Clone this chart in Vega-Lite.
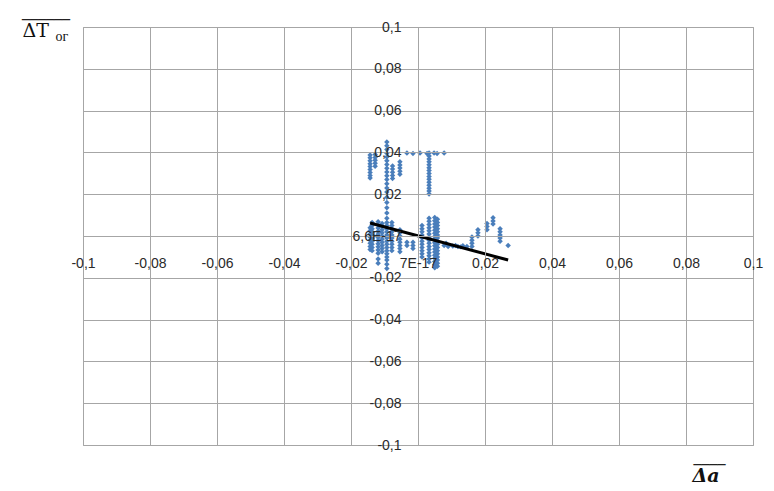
{
  "$schema": "https://vega.github.io/schema/vega-lite/v6.json",
  "width": 670,
  "height": 418,
  "autosize": {"type": "none"},
  "padding": {"left": 83, "top": 27, "right": 21, "bottom": 46},
  "background": "white",
  "config": {"view": {"stroke": "#a6a6a6", "strokeWidth": 1}},
  "title": {"text": "‾‾‾‾‾‾", "anchor": "start", "frame": "group", "dx": -61, "dy": 14, "font": "DejaVu Sans", "fontSize": 16, "fontWeight": "normal", "color": "#222", "offset": 0},
  "datasets": {
    "pts": [
      {"x": -0.0143, "y": 0.0388}, {"x": -0.0143, "y": 0.0374}, {"x": -0.0143, "y": 0.036}, {"x": -0.0143, "y": 0.0346}, {"x": -0.0143, "y": 0.0332}, {"x": -0.0143, "y": 0.0318}, {"x": -0.0143, "y": 0.0304}, {"x": -0.0143, "y": 0.029}, {"x": -0.0143, "y": 0.0278},
      {"x": -0.0128, "y": 0.039}, {"x": -0.0128, "y": 0.0376}, {"x": -0.0128, "y": 0.0362}, {"x": -0.0128, "y": 0.0348}, {"x": -0.0128, "y": 0.0334},
      {"x": -0.0093, "y": 0.045}, {"x": -0.0093, "y": 0.0432}, {"x": -0.0093, "y": 0.0414}, {"x": -0.0093, "y": 0.0396}, {"x": -0.0093, "y": 0.0378}, {"x": -0.0093, "y": 0.036}, {"x": -0.0093, "y": 0.0342}, {"x": -0.0093, "y": 0.0324}, {"x": -0.0093, "y": 0.0306}, {"x": -0.0093, "y": 0.0288}, {"x": -0.0093, "y": 0.027}, {"x": -0.0093, "y": 0.025}, {"x": -0.0093, "y": 0.023}, {"x": -0.0093, "y": 0.021}, {"x": -0.0093, "y": 0.0185}, {"x": -0.0093, "y": 0.016}, {"x": -0.0093, "y": 0.0135}, {"x": -0.0093, "y": 0.011}, {"x": -0.0093, "y": 0.0085}, {"x": -0.0093, "y": 0.0065}, {"x": -0.0093, "y": 0.005}, {"x": -0.0093, "y": 0.0035}, {"x": -0.0093, "y": 0.002}, {"x": -0.0093, "y": 0.0005}, {"x": -0.0093, "y": -0.001}, {"x": -0.0093, "y": -0.0025}, {"x": -0.0093, "y": -0.004}, {"x": -0.0093, "y": -0.0055}, {"x": -0.0093, "y": -0.007}, {"x": -0.0093, "y": -0.0085}, {"x": -0.0093, "y": -0.01}, {"x": -0.0093, "y": -0.0115}, {"x": -0.0093, "y": -0.0135}, {"x": -0.0093, "y": -0.0155},
      {"x": -0.0076, "y": 0.0335}, {"x": -0.0076, "y": 0.032}, {"x": -0.0076, "y": 0.0305}, {"x": -0.0076, "y": 0.029}, {"x": -0.0076, "y": 0.0275},
      {"x": -0.0054, "y": 0.0355}, {"x": -0.0054, "y": 0.034}, {"x": -0.0054, "y": 0.0325}, {"x": -0.0054, "y": 0.031}, {"x": -0.0054, "y": 0.0295},
      {"x": -0.0033, "y": 0.0397}, {"x": -0.0015, "y": 0.0395}, {"x": 0.0006, "y": 0.0397}, {"x": 0.0027, "y": 0.0395}, {"x": 0.0048, "y": 0.0397}, {"x": 0.0057, "y": 0.0395}, {"x": 0.0078, "y": 0.0397},
      {"x": 0.0033, "y": 0.0397}, {"x": 0.0033, "y": 0.0383}, {"x": 0.0033, "y": 0.0369}, {"x": 0.0033, "y": 0.0355}, {"x": 0.0033, "y": 0.0341}, {"x": 0.0033, "y": 0.0327}, {"x": 0.0033, "y": 0.0313}, {"x": 0.0033, "y": 0.0299}, {"x": 0.0033, "y": 0.0285}, {"x": 0.0033, "y": 0.0271}, {"x": 0.0033, "y": 0.0257}, {"x": 0.0033, "y": 0.0243}, {"x": 0.0033, "y": 0.0229}, {"x": 0.0033, "y": 0.0215}, {"x": 0.0033, "y": 0.0201},
      {"x": -0.0143, "y": 0.004}, {"x": -0.0143, "y": 0.0025}, {"x": -0.0143, "y": 0.001}, {"x": -0.0143, "y": -0.0005}, {"x": -0.0143, "y": -0.002}, {"x": -0.0143, "y": -0.0035}, {"x": -0.0143, "y": -0.005}, {"x": -0.0143, "y": -0.0065},
      {"x": -0.0137, "y": 0.0065}, {"x": -0.0137, "y": 0.005}, {"x": -0.0137, "y": 0.0035}, {"x": -0.0137, "y": 0.002}, {"x": -0.0137, "y": 0.0005}, {"x": -0.0137, "y": -0.001}, {"x": -0.0137, "y": -0.0025}, {"x": -0.0137, "y": -0.004}, {"x": -0.0137, "y": -0.0055}, {"x": -0.0137, "y": -0.007},
      {"x": -0.0119, "y": 0.0068}, {"x": -0.0119, "y": 0.0053}, {"x": -0.0119, "y": 0.0038}, {"x": -0.0119, "y": 0.0023}, {"x": -0.0119, "y": 0.0008}, {"x": -0.0119, "y": -0.0007}, {"x": -0.0119, "y": -0.0022}, {"x": -0.0119, "y": -0.0037}, {"x": -0.0119, "y": -0.0052}, {"x": -0.0119, "y": -0.0067}, {"x": -0.0119, "y": -0.0082}, {"x": -0.0119, "y": -0.011}, {"x": -0.0119, "y": -0.013},
      {"x": -0.0107, "y": 0.006}, {"x": -0.0107, "y": 0.0045}, {"x": -0.0107, "y": 0.003}, {"x": -0.0107, "y": 0.0015}, {"x": -0.0107, "y": 0}, {"x": -0.0107, "y": -0.0015}, {"x": -0.0107, "y": -0.003}, {"x": -0.0107, "y": -0.0045}, {"x": -0.0107, "y": -0.006}, {"x": -0.0107, "y": -0.0075},
      {"x": -0.0078, "y": 0.0065}, {"x": -0.0078, "y": 0.005}, {"x": -0.0078, "y": 0.0035}, {"x": -0.0078, "y": 0.002}, {"x": -0.0078, "y": 0.0005}, {"x": -0.0078, "y": -0.001}, {"x": -0.0078, "y": -0.0025}, {"x": -0.0078, "y": -0.004}, {"x": -0.0078, "y": -0.0055}, {"x": -0.0078, "y": -0.007},
      {"x": -0.0054, "y": 0.003}, {"x": -0.0054, "y": 0.0015}, {"x": -0.0054, "y": 0}, {"x": -0.0054, "y": -0.0015}, {"x": -0.0054, "y": -0.003}, {"x": -0.0054, "y": -0.0045}, {"x": -0.0054, "y": -0.006}, {"x": -0.0054, "y": -0.0075},
      {"x": -0.0033, "y": -0.003}, {"x": -0.0033, "y": -0.0045},
      {"x": -0.0015, "y": -0.003}, {"x": -0.0015, "y": -0.0045}, {"x": -0.0015, "y": -0.006},
      {"x": 0.0012, "y": 0.005}, {"x": 0.0012, "y": 0.0035}, {"x": 0.0012, "y": 0.002}, {"x": 0.0012, "y": 0.0005}, {"x": 0.0012, "y": -0.001}, {"x": 0.0012, "y": -0.0025}, {"x": 0.0012, "y": -0.004}, {"x": 0.0012, "y": -0.0055}, {"x": 0.0012, "y": -0.007}, {"x": 0.0012, "y": -0.0085}, {"x": 0.0012, "y": -0.01},
      {"x": 0.0033, "y": 0.0085}, {"x": 0.0033, "y": 0.007}, {"x": 0.0033, "y": 0.0055}, {"x": 0.0033, "y": 0.004}, {"x": 0.0033, "y": 0.0025}, {"x": 0.0033, "y": 0.001}, {"x": 0.0033, "y": -0.0005}, {"x": 0.0033, "y": -0.002}, {"x": 0.0033, "y": -0.0035}, {"x": 0.0033, "y": -0.005}, {"x": 0.0033, "y": -0.0065}, {"x": 0.0033, "y": -0.008}, {"x": 0.0033, "y": -0.0095}, {"x": 0.0033, "y": -0.011}, {"x": 0.0033, "y": -0.0125},
      {"x": 0.005, "y": 0.0088}, {"x": 0.005, "y": 0.0073}, {"x": 0.005, "y": 0.0058}, {"x": 0.005, "y": 0.0043}, {"x": 0.005, "y": 0.0028}, {"x": 0.005, "y": 0.0013}, {"x": 0.005, "y": -0.0002}, {"x": 0.005, "y": -0.0017}, {"x": 0.005, "y": -0.0032}, {"x": 0.005, "y": -0.0047}, {"x": 0.005, "y": -0.0062}, {"x": 0.005, "y": -0.0077}, {"x": 0.005, "y": -0.0092}, {"x": 0.005, "y": -0.0107}, {"x": 0.005, "y": -0.0122}, {"x": 0.005, "y": -0.0137}, {"x": 0.005, "y": -0.0152},
      {"x": 0.0058, "y": 0.008}, {"x": 0.0058, "y": 0.0065}, {"x": 0.0058, "y": 0.005}, {"x": 0.0058, "y": 0.0035}, {"x": 0.0058, "y": 0.002}, {"x": 0.0058, "y": 0.0005}, {"x": 0.0058, "y": -0.001}, {"x": 0.0058, "y": -0.0025}, {"x": 0.0058, "y": -0.004}, {"x": 0.0058, "y": -0.0055}, {"x": 0.0058, "y": -0.007}, {"x": 0.0058, "y": -0.0085}, {"x": 0.0058, "y": -0.01}, {"x": 0.0058, "y": -0.0115}, {"x": 0.0058, "y": -0.013}, {"x": 0.0058, "y": -0.0145},
      {"x": 0.0078, "y": -0.0045}, {"x": 0.0084, "y": -0.0035}, {"x": 0.009, "y": -0.005}, {"x": 0.0104, "y": -0.0048}, {"x": 0.0112, "y": -0.0045}, {"x": 0.0119, "y": -0.005}, {"x": 0.0128, "y": -0.0052}, {"x": 0.0134, "y": -0.0047}, {"x": 0.0146, "y": -0.005},
      {"x": 0.0161, "y": -0.0005}, {"x": 0.0161, "y": -0.002}, {"x": 0.0161, "y": -0.0035}, {"x": 0.0161, "y": -0.005},
      {"x": 0.0179, "y": 0.003}, {"x": 0.0179, "y": 0.0015}, {"x": 0.0179, "y": 0},
      {"x": 0.0206, "y": 0.006}, {"x": 0.0206, "y": 0.0045}, {"x": 0.0206, "y": 0.003},
      {"x": 0.0224, "y": 0.0087}, {"x": 0.0224, "y": 0.0072}, {"x": 0.0224, "y": 0.0057},
      {"x": 0.0245, "y": 0.0035}, {"x": 0.0245, "y": 0.002}, {"x": 0.0245, "y": 0.0005}, {"x": 0.0245, "y": -0.001}, {"x": 0.0245, "y": -0.0025},
      {"x": 0.0269, "y": -0.0045}
    ],
    "trend": [
      {"x": -0.0143, "y": 0.0062},
      {"x": 0.0269, "y": -0.0115}
    ]
  },
  "layer": [
    {
      "data": {"name": "pts"},
      "mark": {"type": "point", "shape": "diamond", "filled": true, "size": 30, "color": "#4A7EBB", "opacity": 1},
      "encoding": {
        "x": {
          "field": "x", "type": "quantitative",
          "scale": {"domain": [-0.1, 0.1], "nice": false, "zero": false},
          "axis": {
            "values": [-0.1, -0.08, -0.06, -0.04, -0.02, 0, 0.02, 0.04, 0.06, 0.08, 0.1],
            "offset": -209, "domain": false, "ticks": false, "grid": true, "gridColor": "#a6a6a6", "gridOpacity": 1, "zindex": 1,
            "labelPadding": 20, "labelFont": "Liberation Sans", "labelFontSize": 14, "labelColor": "#2a2a2a", "labelOverlap": false, "labelFlush": false, "labelBound": false,
            "labelExpr": "datum.value == 0 ? '7E-17' : replace(toString(datum.value), '.', ',')",
            "title": "Δa", "titleX": 609, "titleY": 245, "titleAlign": "left", "titleBaseline": "alphabetic", "titleFont": "DejaVu Serif", "titleFontSize": 19, "titleFontWeight": "bold", "titleFontStyle": "italic", "titleColor": "#111"
          }
        },
        "y": {
          "field": "y", "type": "quantitative",
          "scale": {"domain": [-0.1, 0.1], "nice": false, "zero": false},
          "axis": {
            "values": [-0.1, -0.08, -0.06, -0.04, -0.02, 0, 0.02, 0.04, 0.06, 0.08, 0.1],
            "offset": -335, "domain": false, "ticks": false, "grid": true, "gridColor": "#a6a6a6", "gridOpacity": 1, "zindex": 1,
            "labelPadding": 17, "labelFont": "Liberation Sans", "labelFontSize": 14, "labelColor": "#2a2a2a", "labelOverlap": false, "labelFlush": false, "labelBound": false,
            "labelExpr": "datum.value == 0 ? '6,6E-17' : replace(toString(datum.value), '.', ',')",
            "title": "ΔT", "titleX": -396, "titleY": 9, "titleAngle": 0, "titleAlign": "left", "titleBaseline": "alphabetic", "titleFont": "DejaVu Serif", "titleFontSize": 19, "titleFontWeight": "normal", "titleColor": "#111"
          }
        }
      }
    },
    {
      "data": {"name": "trend"},
      "mark": {"type": "line", "color": "black", "strokeWidth": 3},
      "encoding": {
        "x": {
          "field": "x", "type": "quantitative",
          "scale": {"domain": [-0.1, 0.1], "nice": false, "zero": false},
          "axis": {"orient": "bottom", "domain": false, "ticks": false, "labels": false, "grid": false,
            "title": "‾‾‾‾", "titleX": 610, "titleY": 30, "titleAlign": "left", "titleBaseline": "alphabetic", "titleFont": "DejaVu Sans", "titleFontSize": 16, "titleFontWeight": "normal", "titleColor": "#222"}
        },
        "y": {
          "field": "y", "type": "quantitative",
          "scale": {"domain": [-0.1, 0.1], "nice": false, "zero": false},
          "axis": {"orient": "left", "domain": false, "ticks": false, "labels": false, "grid": false,
            "title": "ог", "titleX": -28, "titleY": 13, "titleAngle": 0, "titleAlign": "left", "titleBaseline": "alphabetic", "titleFont": "Liberation Serif", "titleFontSize": 14, "titleFontWeight": "normal", "titleColor": "#111"}
        }
      }
    }
  ],
  "resolve": {"axis": {"x": "independent", "y": "independent"}}
}
